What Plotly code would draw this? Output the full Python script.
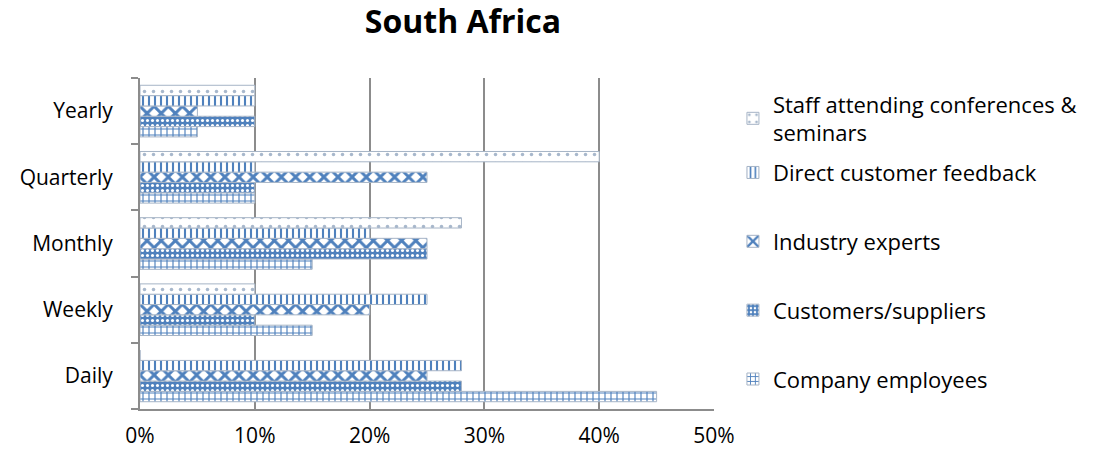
import plotly.graph_objects as go

# Frequency categories (bottom to top on the chart)
periods = ["Daily", "Weekly", "Monthly", "Quarterly", "Yearly"]

# Share of respondents (%) per information source
company_employees = [45, 15, 15, 10, 5]
customers_suppliers = [28, 10, 25, 10, 10]
industry_experts = [25, 20, 25, 25, 5]
direct_customer_feedback = [28, 25, 20, 10, 10]
staff_conferences = [0, 10, 28, 40, 10]

x_ticks = [0, 10, 20, 30, 40, 50]
x_tick_labels = ["0%", "10%", "20%", "30%", "40%", "50%"]

BLUE = "#4F81BD"
FONT = "Open Sans, sans-serif"

# name, values, fill pattern, legend id, legend vertical centre (paper units)
series = [
    ("Company employees", company_employees,
     dict(shape="+", fgcolor=BLUE, bgcolor="white", size=6, solidity=0.35,
          fgopacity=1),
     "legend", 0.090),
    ("Customers/suppliers", customers_suppliers,
     dict(shape=".", fgcolor="white", bgcolor=BLUE, size=5, solidity=0.3,
          fgopacity=1),
     "legend2", 0.298),
    ("Industry experts", industry_experts,
     dict(shape="x", fgcolor=BLUE, bgcolor="white", size=10, solidity=0.5,
          fgopacity=1),
     "legend3", 0.506),
    ("Direct customer feedback", direct_customer_feedback,
     dict(shape="|", fgcolor=BLUE, bgcolor="white", size=6, solidity=0.35,
          fgopacity=1),
     "legend4", 0.714),
    ("Staff attending conferences &<br>seminars", staff_conferences,
     dict(shape=".", fgcolor="#A8B8CC", bgcolor="white", size=9, solidity=0.12,
          fgopacity=1),
     "legend5", 0.877),
]

fig = go.Figure()
legends = {}
for name, vals, pat, leg, ypos in series:
    fig.add_trace(go.Bar(
        y=periods, x=vals, name=name, orientation="h", legend=leg,
        showlegend=True,
        marker=dict(pattern=pat, color="white",
                    line=dict(color="#A6B4C6", width=1)),
    ))
    legends[leg] = dict(x=1.033, xanchor="left", y=ypos, yanchor="middle",
                        font=dict(size=22, family=FONT), itemwidth=30,
                        bgcolor="rgba(0,0,0,0)", visible=True)

fig.update_layout(
    width=1097, height=451,
    margin=dict(l=140, r=383, t=78, b=42),
    paper_bgcolor="white", plot_bgcolor="white",
    showlegend=True,
    barmode="group", bargap=0.22, bargroupgap=0,
    font=dict(family=FONT, size=21, color="#000000"),
    title=dict(text="<b>South Africa</b>", x=0.422, xanchor="center",
               y=0.951, yanchor="middle",
               font=dict(size=32, family=FONT)),
    xaxis=dict(range=[0, 50], tickvals=x_ticks, ticktext=x_tick_labels,
               showgrid=True, gridcolor="#8C8C8C", gridwidth=2,
               showline=True, linecolor="#8C8C8C", linewidth=2,
               zeroline=False, ticks="", ticklabelstandoff=7,
               automargin=False, tickfont=dict(size=21)),
    yaxis=dict(showline=True, linecolor="#8C8C8C", linewidth=2,
               ticks="outside", tickson="boundaries", ticklen=7,
               tickcolor="#8C8C8C", tickwidth=2, ticklabelstandoff=21,
               automargin=False, tickfont=dict(size=21)),
    **legends,
)

fig.write_html("out.html")
